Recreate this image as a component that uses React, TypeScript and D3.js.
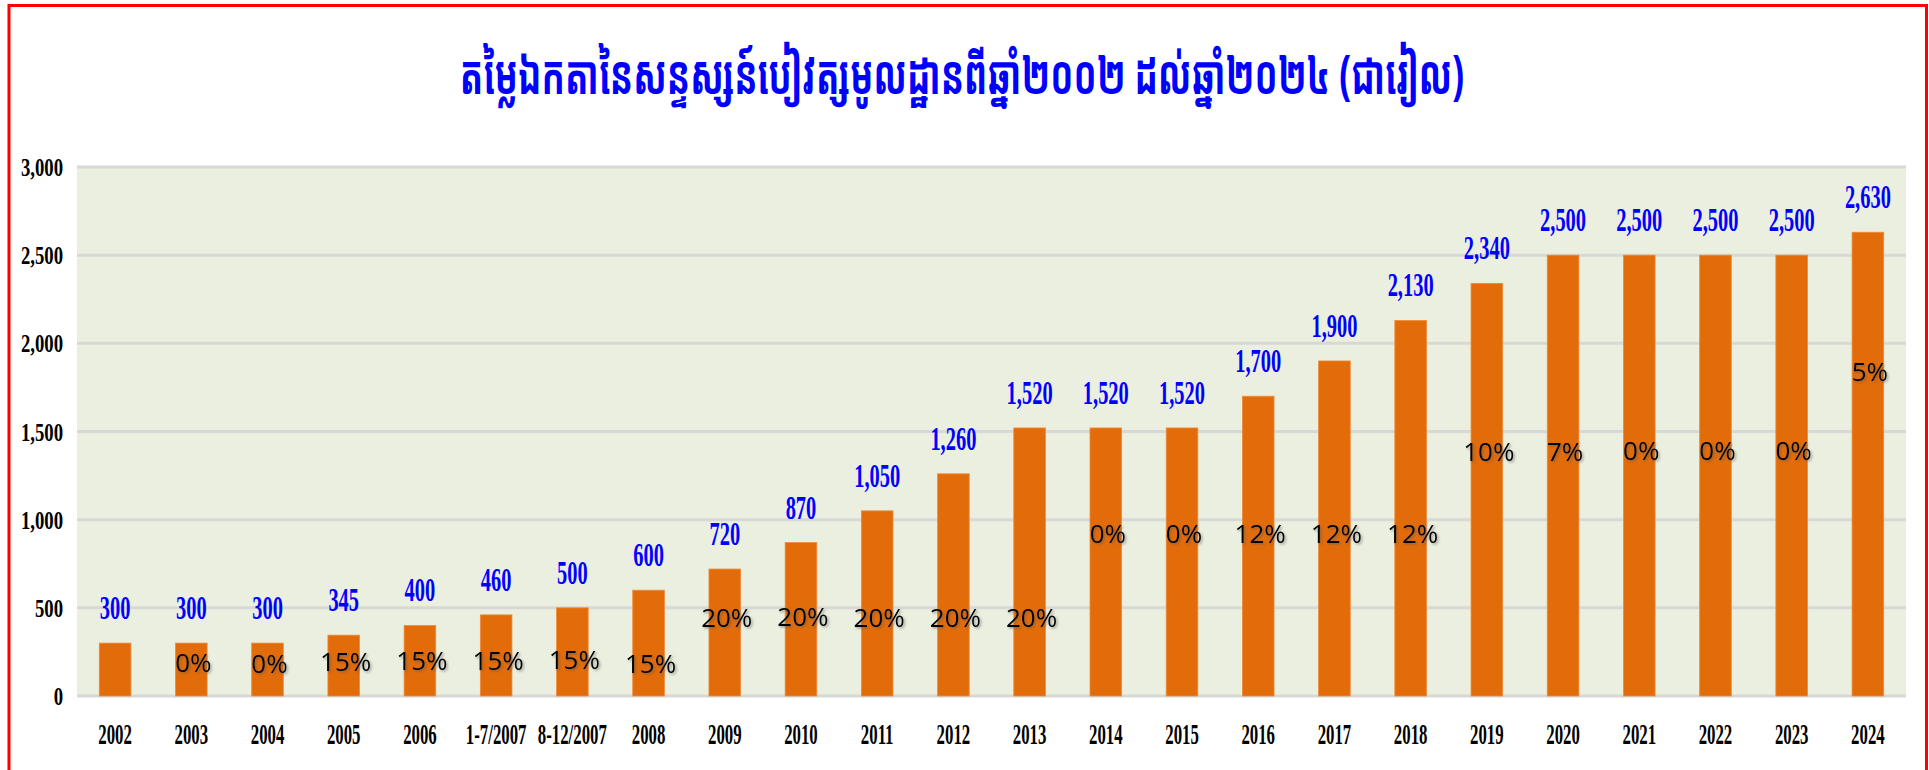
import React from "react";
import * as d3 from "d3";

const categories = [
  "2002", "2003", "2004", "2005", "2006", "1-7/2007", "8-12/2007", "2008",
  "2009", "2010", "2011", "2012", "2013", "2014", "2015", "2016",
  "2017", "2018", "2019", "2020", "2021", "2022", "2023", "2024",
];
const values = [
  300, 300, 300, 345, 400, 460, 500, 600,
  720, 870, 1050, 1260, 1520, 1520, 1520, 1700,
  1900, 2130, 2340, 2500, 2500, 2500, 2500, 2630,
];
const growth = [
  "", "0%", "0%", "15%", "15%", "15%", "15%", "15%",
  "20%", "20%", "20%", "20%", "20%", "0%", "0%", "12%",
  "12%", "12%", "10%", "7%", "0%", "0%", "0%", "5%",
];
// value level (in riel) at which each growth label sits
const growthLevel = [
  0, 185, 180, 193, 198, 198, 204, 180,
  445, 450, 445, 445, 445, 920, 920, 920,
  920, 920, 1385, 1385, 1390, 1390, 1390, 1840,
];
const yTicks = [0, 500, 1000, 1500, 2000, 2500, 3000];
const title = "តម្លៃឯកតានៃសន្ទស្សន៍បៀវត្សមូលដ្ឋានពីឆ្នាំ២០០២ ដល់ឆ្នាំ២០២៤ (ជារៀល)";

const W = 1929;
const H = 770;
const plot = { left: 77, right: 1906, top: 167, bottom: 696 };

const fmt = d3.format(",");

function Squeezed(props: {
  x: number; y: number; sx: number; children: React.ReactNode;
  anchor?: string; size: number; fill: string; weight?: string | number; family: string;
}) {
  const { x, y, sx, children, anchor = "middle", size, fill, weight = "bold", family } = props;
  return (
    <text
      transform={`translate(${x},${y}) scale(${sx},1)`}
      textAnchor={anchor}
      fontSize={size}
      fill={fill}
      fontWeight={weight}
      fontFamily={family}
    >
      {children}
    </text>
  );
}

export default function App() {
  const x = d3
    .scaleBand<string>()
    .domain(categories)
    .range([plot.left, plot.right])
    .paddingInner(0.585)
    .paddingOuter(0.2925);
  const y = d3.scaleLinear().domain([0, 3000]).range([plot.bottom, plot.top]);
  const serif = "'Liberation Serif', 'Times New Roman', serif";
  const sans = "'Open Sans', 'Noto Sans', sans-serif";

  return (
    <svg
      width={W}
      height={H}
      style={{ position: "absolute", left: 0, top: 0, background: "#ffffff" }}
    >
      <defs>
        <filter id="shadow" x="-20%" y="-20%" width="140%" height="140%">
          <feDropShadow dx="1.5" dy="1.5" stdDeviation="1" floodColor="#555" floodOpacity="0.55" />
        </filter>
      </defs>
      <rect x={0} y={0} width={W} height={H} fill="#ffffff" />
      {/* frame */}
      <rect x={9} y={5.5} width={1917.5} height={H + 20} fill="none" stroke="#ff0000" strokeWidth={3} />

      {/* title */}
      <Squeezed
        x={962}
        y={94}
        sx={0.64}
        size={54}
        fill="#0000ff"
        family="'Khmer OS Muol Light', 'Khmer OS Muol', 'Noto Sans Khmer', 'Noto Serif Khmer', 'Khmer OS', sans-serif"
      >
        {title}
      </Squeezed>

      {/* plot background */}
      <rect
        x={plot.left}
        y={plot.top}
        width={plot.right - plot.left}
        height={plot.bottom - plot.top}
        fill="#ebefdf"
      />
      {/* gridlines */}
      {yTicks.map((t) => (
        <line
          key={"g" + t}
          x1={plot.left}
          x2={plot.right}
          y1={y(t)}
          y2={y(t)}
          stroke="#d8d9d6"
          strokeWidth={3}
        />
      ))}
      {/* y labels */}
      {yTicks.map((t) => (
        <Squeezed key={"yl" + t} x={63} y={y(t) + 9} sx={0.72} anchor="end" size={26} fill="#000" family={serif}>
          {fmt(t)}
        </Squeezed>
      ))}

      {/* bars */}
      {categories.map((c, i) => (
        <rect
          key={"b" + c}
          x={x(c)!}
          y={y(values[i])}
          width={x.bandwidth()}
          height={y(0) - y(values[i])}
          fill="#e36c0a"
          stroke="#ef8a3a"
          strokeWidth={0.8}
        />
      ))}

      {/* value labels */}
      {categories.map((c, i) => (
        <Squeezed
          key={"v" + c}
          x={x(c)! + x.bandwidth() / 2}
          y={y(values[i]) - 24}
          sx={0.62}
          size={33}
          fill="#0000ff"
          family={serif}
        >
          {fmt(values[i])}
        </Squeezed>
      ))}

      {/* growth labels */}
      {categories.map((c, i) =>
        growth[i] ? (
          <text
            key={"p" + c}
            x={x(c)! + x.bandwidth() / 2 + 2}
            y={y(growthLevel[i]) + 9}
            textAnchor="middle"
            fontSize={26}
            fill="#000"
            fontFamily={sans}
            filter="url(#shadow)"
          >
            {growth[i]}
          </text>
        ) : null
      )}

      {/* x labels */}
      {categories.map((c) => (
        <Squeezed
          key={"x" + c}
          x={x(c)! + x.bandwidth() / 2}
          y={744}
          sx={0.56}
          size={30}
          fill="#000"
          family={serif}
        >
          {c}
        </Squeezed>
      ))}
    </svg>
  );
}
